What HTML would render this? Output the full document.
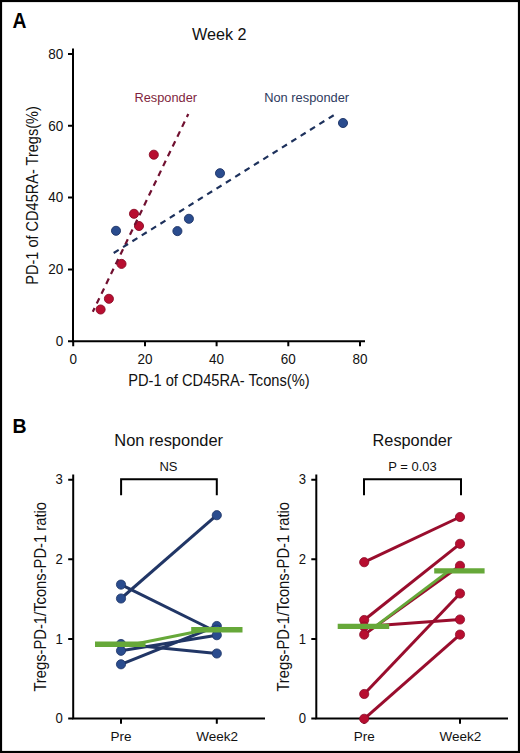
<!DOCTYPE html>
<html><head><meta charset="utf-8"><style>
html,body{margin:0;padding:0;background:#fff;}
body{width:520px;height:753px;overflow:hidden;}
svg{display:block;font-family:"Liberation Sans",sans-serif;}
</style></head><body>
<svg width="520" height="753" viewBox="0 0 520 753">
<rect x="0" y="0" width="520" height="753" fill="#fff"/>
<rect x="1" y="1" width="518" height="751" fill="none" stroke="#000" stroke-width="2.2"/>

<text transform="translate(12.4,27.8) scale(0.86,1)" font-size="22.5" font-weight="bold" fill="#000">A</text>
<text x="12.5" y="433" font-size="19.5" font-weight="bold" fill="#000">B</text>
<text x="192" y="40" font-size="16.2" fill="#111">Week 2</text>
<g stroke="#000" stroke-width="2" fill="none">
  <path d="M73,48.5 V341.3 H365"/>
  <path d="M68,54 H73 M68,125.8 H73 M68,197.6 H73 M68,269.5 H73 M68,341.3 H73"/>
  <path d="M73.2,341.3 V346.3 M145,341.3 V346.3 M216.6,341.3 V346.3 M288.3,341.3 V346.3 M360,341.3 V346.3"/>
</g>
<text transform="translate(63.2,58.8) scale(0.9,1)" font-size="15" fill="#111" text-anchor="end">80</text>
<text transform="translate(63.2,130.6) scale(0.9,1)" font-size="15" fill="#111" text-anchor="end">60</text>
<text transform="translate(63.2,202.4) scale(0.9,1)" font-size="15" fill="#111" text-anchor="end">40</text>
<text transform="translate(63.2,274.3) scale(0.9,1)" font-size="15" fill="#111" text-anchor="end">20</text>
<text transform="translate(63.2,346.1) scale(0.9,1)" font-size="15" fill="#111" text-anchor="end">0</text>
<text transform="translate(73.2,363.8) scale(0.9,1)" font-size="15" fill="#111" text-anchor="middle">0</text>
<text transform="translate(145,363.8) scale(0.9,1)" font-size="15" fill="#111" text-anchor="middle">20</text>
<text transform="translate(216.6,363.8) scale(0.9,1)" font-size="15" fill="#111" text-anchor="middle">40</text>
<text transform="translate(288.3,363.8) scale(0.9,1)" font-size="15" fill="#111" text-anchor="middle">60</text>
<text transform="translate(360,363.8) scale(0.9,1)" font-size="15" fill="#111" text-anchor="middle">80</text>
<text x="128.2" y="385.9" font-size="17" fill="#111" textLength="181.4" lengthAdjust="spacingAndGlyphs">PD-1 of CD45RA- Tcons(%)</text>
<text transform="translate(38.3,284.7) rotate(-90)" x="0" y="0" font-size="17" fill="#111" textLength="178.5" lengthAdjust="spacingAndGlyphs">PD-1 of CD45RA- Tregs(%)</text>
<text x="134.5" y="101.7" font-size="12.8" fill="#7f1f3d">Responder</text>
<text x="264.2" y="101.6" font-size="12.85" fill="#2e3b5e">Non responder</text>
<g fill="#2a4c8e" stroke="#1d3365" stroke-width="0.9">
  <circle cx="116" cy="230.8" r="4.55"/>
  <circle cx="177.4" cy="231.1" r="4.55"/>
  <circle cx="188.9" cy="218.8" r="4.55"/>
  <circle cx="220" cy="173.2" r="4.55"/>
  <circle cx="343.0" cy="123.0" r="4.55"/>
</g>
<g fill="#b80e30" stroke="#8a0b26" stroke-width="0.9">
  <circle cx="153.8" cy="154.7" r="4.55"/>
  <circle cx="134.0" cy="213.8" r="4.55"/>
  <circle cx="139.0" cy="226.0" r="4.55"/>
  <circle cx="121.5" cy="263.9" r="4.55"/>
  <circle cx="108.9" cy="298.8" r="4.55"/>
  <circle cx="100.6" cy="309.5" r="4.55"/>
</g>
<line x1="188.3" y1="114.1" x2="92.8" y2="311.7" stroke="#701030" stroke-width="2.2" stroke-dasharray="5.9,5" stroke-dashoffset="2.6"/>
<line x1="333.7" y1="115.2" x2="113.5" y2="253.1" stroke="#1d315c" stroke-width="2.2" stroke-dasharray="5.9,5.13" stroke-dashoffset="0"/>
<text x="114.3" y="445.8" font-size="16.45" fill="#111">Non responder</text>
<text x="168.5" y="471" font-size="13" fill="#111" text-anchor="middle">NS</text>
<path d="M121.1,495.3 V479.3 H216.8 V495.3" stroke="#000" stroke-width="2" fill="none"/>
<g stroke="#000" stroke-width="2" fill="none">
  <path d="M73.2,474.4 V718.5 H265"/>
  <path d="M68.2,479.8 H73.2 M68.2,559.3 H73.2 M68.2,638.9 H73.2 M68.2,718.5 H73.2"/>
  <path d="M121,718.5 V723.8 M216.8,718.5 V723.8"/>
</g>
<text transform="translate(62.9,484.4) scale(0.9,1)" font-size="14.6" fill="#111" text-anchor="end">3</text>
<text transform="translate(62.9,563.9) scale(0.9,1)" font-size="14.6" fill="#111" text-anchor="end">2</text>
<text transform="translate(62.9,643.5) scale(0.9,1)" font-size="14.6" fill="#111" text-anchor="end">1</text>
<text transform="translate(62.9,723.1) scale(0.9,1)" font-size="14.6" fill="#111" text-anchor="end">0</text>
<text x="121" y="740.8" font-size="13.5" fill="#111" text-anchor="middle">Pre</text>
<text x="217.2" y="740.8" font-size="13.5" fill="#111" text-anchor="middle">Week2</text>
<text transform="translate(45.7,691.6) rotate(-90)" x="0" y="0" font-size="17" fill="#111" textLength="189.6" lengthAdjust="spacingAndGlyphs">Tregs-PD-1/Tcons-PD-1 ratio</text>
<g stroke="#213666" stroke-width="3" fill="none">
  <line x1="121" y1="584.6" x2="216.8" y2="632"/>
  <line x1="121" y1="598.5" x2="216.8" y2="515.2"/>
  <line x1="121" y1="644" x2="216.8" y2="653.5"/>
  <line x1="121" y1="650.8" x2="216.8" y2="635.2"/>
  <line x1="121" y1="664.3" x2="216.8" y2="626"/>
</g>
<g fill="#2a4c8e" stroke="#1d3365" stroke-width="0.8">
  <circle cx="121" cy="584.6" r="4.6"/>
  <circle cx="121" cy="598.5" r="4.6"/>
  <circle cx="121" cy="644" r="4.6"/>
  <circle cx="121" cy="650.8" r="4.6"/>
  <circle cx="121" cy="664.3" r="4.6"/>
  <circle cx="216.8" cy="515.2" r="4.6"/>
  <circle cx="216.8" cy="626" r="4.6"/>
  <circle cx="216.8" cy="629.7" r="4.6"/>
  <circle cx="216.8" cy="635.2" r="4.6"/>
  <circle cx="216.8" cy="653.5" r="4.6"/>
</g>
<g stroke="#66a839" fill="none">
  <line x1="134.1" y1="644.3" x2="206" y2="629.7" stroke-width="3"/>
  <line x1="95" y1="644.3" x2="145.5" y2="644.3" stroke-width="5.4"/>
  <line x1="191.2" y1="629.7" x2="242.5" y2="629.7" stroke-width="5.4"/>
</g>
<text x="372.6" y="445.8" font-size="16.3" fill="#111">Responder</text>
<text x="412.5" y="471" font-size="13" fill="#111" text-anchor="middle">P = 0.03</text>
<path d="M364,495.3 V479.3 H461 V495.3" stroke="#000" stroke-width="2" fill="none"/>
<g stroke="#000" stroke-width="2" fill="none">
  <path d="M316.3,474.4 V718.5 H508"/>
  <path d="M311.3,479.8 H316.3 M311.3,559.3 H316.3 M311.3,638.9 H316.3 M311.3,718.5 H316.3"/>
  <path d="M364.2,718.5 V723.8 M460,718.5 V723.8"/>
</g>
<text transform="translate(306.0,484.4) scale(0.9,1)" font-size="14.6" fill="#111" text-anchor="end">3</text>
<text transform="translate(306.0,563.9) scale(0.9,1)" font-size="14.6" fill="#111" text-anchor="end">2</text>
<text transform="translate(306.0,643.5) scale(0.9,1)" font-size="14.6" fill="#111" text-anchor="end">1</text>
<text transform="translate(306.0,723.1) scale(0.9,1)" font-size="14.6" fill="#111" text-anchor="end">0</text>
<text x="364.2" y="740.8" font-size="13.5" fill="#111" text-anchor="middle">Pre</text>
<text x="460.4" y="740.8" font-size="13.5" fill="#111" text-anchor="middle">Week2</text>
<text transform="translate(289.3,691.6) rotate(-90)" x="0" y="0" font-size="17" fill="#111" textLength="189.6" lengthAdjust="spacingAndGlyphs">Tregs-PD-1/Tcons-PD-1 ratio</text>
<g stroke="#990d2d" stroke-width="3" fill="none">
  <line x1="364.2" y1="562.2" x2="460" y2="517"/>
  <line x1="364.2" y1="620" x2="460" y2="543.8"/>
  <line x1="364.2" y1="626.6" x2="460" y2="619.5"/>
  <line x1="364.2" y1="634.6" x2="460" y2="565.8"/>
  <line x1="364.2" y1="694" x2="460" y2="593.5"/>
  <line x1="364.2" y1="718.8" x2="460" y2="634.6"/>
</g>
<g fill="#b70e30" stroke="#8c0b28" stroke-width="0.8">
  <circle cx="364.2" cy="562.2" r="4.6"/>
  <circle cx="364.2" cy="620" r="4.6"/>
  <circle cx="364.2" cy="626.6" r="4.6"/>
  <circle cx="364.2" cy="634.6" r="4.6"/>
  <circle cx="364.2" cy="694" r="4.6"/>
  <circle cx="364.2" cy="718.8" r="4.6"/>
  <circle cx="460" cy="517" r="4.6"/>
  <circle cx="460" cy="543.8" r="4.6"/>
  <circle cx="460" cy="565.8" r="4.6"/>
  <circle cx="460" cy="593.5" r="4.6"/>
  <circle cx="460" cy="619.5" r="4.6"/>
  <circle cx="460" cy="634.6" r="4.6"/>
</g>
<g stroke="#66a839" fill="none">
  <line x1="375.4" y1="626.4" x2="448.9" y2="570.9" stroke-width="3"/>
  <line x1="337.7" y1="626.4" x2="389.2" y2="626.4" stroke-width="5.4"/>
  <line x1="434.2" y1="570.9" x2="484.6" y2="570.9" stroke-width="5.4"/>
</g>
</svg>
</body></html>
